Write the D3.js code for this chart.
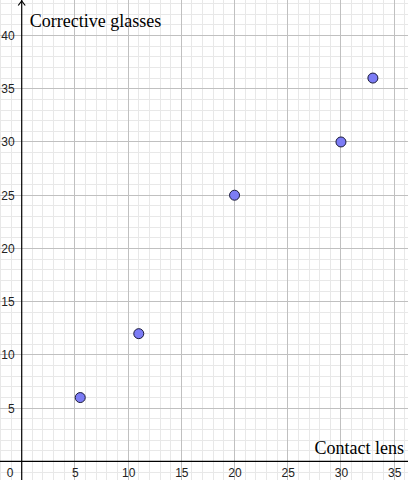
<!DOCTYPE html>
<html>
<head>
<meta charset="utf-8">
<script src="https://cdn.jsdelivr.net/npm/d3@7"></script>
<style>
  body { margin: 0; background: #fff; }
  svg { display: block; }
  .tick text { font: 12px "Liberation Sans", Arial, sans-serif; fill: #222; }
</style>
</head>
<body>
<svg width="408" height="480"></svg>
<script>
var contactLens = [5.5, 11, 20, 30, 33];
var correctiveGlasses = [6, 12, 25, 30, 36];
var xTicks = [5, 10, 15, 20, 25, 30, 35];
var yTicks = [5, 10, 15, 20, 25, 30, 35, 40];
var xTitle = "Contact lens",
  yTitle = "Corrective glasses";

var svg = d3.select("svg"),
  width = +svg.attr("width"),
  height = +svg.attr("height");

var x = d3.scaleLinear().domain([-2.04, 36.3]).range([0, width]),
  y = d3.scaleLinear().domain([-1.74, 43.33]).range([height, 0]);

var points = contactLens.map(function(d, i) { return {x: d, y: correctiveGlasses[i]}; });

// minor grid every 1 unit, major every 5
var minorX = d3.range(-2, 37).filter(function(d) { return d % 5 != 0; }),
  minorY = d3.range(-1, 44).filter(function(d) { return d % 5 != 0; }),
  majorX = d3.range(5, 40, 5),
  majorY = d3.range(5, 45, 5);

var grid = svg.append("g").attr("shape-rendering", "crispEdges");

grid.selectAll(".mx").data(minorX).enter().append("line")
  .attr("x1", function(d) { return x(d); }).attr("x2", function(d) { return x(d); })
  .attr("y1", 0).attr("y2", height)
  .attr("stroke", "#e8e8e8");
grid.selectAll(".my").data(minorY).enter().append("line")
  .attr("y1", function(d) { return y(d); }).attr("y2", function(d) { return y(d); })
  .attr("x1", 0).attr("x2", width)
  .attr("stroke", "#e8e8e8");
grid.selectAll(".Mx").data(majorX).enter().append("line")
  .attr("x1", function(d) { return x(d); }).attr("x2", function(d) { return x(d); })
  .attr("y1", 0).attr("y2", height)
  .attr("stroke", "#c0c0c0");
grid.selectAll(".My").data(majorY).enter().append("line")
  .attr("y1", function(d) { return y(d); }).attr("y2", function(d) { return y(d); })
  .attr("x1", 0).attr("x2", width)
  .attr("stroke", "#c0c0c0");

// main axes
svg.append("line")
  .attr("x1", 0).attr("x2", width)
  .attr("y1", y(0)).attr("y2", y(0))
  .attr("stroke", "#000").attr("stroke-width", 1.2);
svg.append("line")
  .attr("x1", x(0)).attr("x2", x(0))
  .attr("y1", 0).attr("y2", height)
  .attr("stroke", "#000").attr("stroke-width", 1.2);
svg.append("path")
  .attr("d", "M" + (x(0) - 3.5) + ",5.5L" + x(0) + ",1L" + (x(0) + 3.5) + ",5.5")
  .attr("fill", "none").attr("stroke", "#000").attr("stroke-width", 1.2);

// tick labels
var xAxis = svg.append("g")
  .attr("transform", "translate(0," + y(0) + ")")
  .call(d3.axisBottom(x).tickValues(xTicks).tickSize(0).tickPadding(7));
xAxis.select(".domain").remove();

var yAxis = svg.append("g")
  .attr("transform", "translate(" + x(0) + ",0)")
  .call(d3.axisLeft(y).tickValues(yTicks).tickSize(0).tickPadding(7));
yAxis.select(".domain").remove();

svg.append("text")
  .attr("x", 10).attr("y", y(0) + 7).attr("dy", "0.71em")
  .attr("text-anchor", "middle")
  .style("font", "12px 'Liberation Sans', Arial, sans-serif")
  .attr("fill", "#222")
  .text("0");

// axis titles
svg.append("text")
  .attr("x", x(0) + 8).attr("y", 27)
  .style("font", "18px 'Liberation Serif', serif")
  .attr("fill", "#000")
  .text(yTitle);
svg.append("text")
  .attr("x", 404).attr("y", 454)
  .attr("text-anchor", "end")
  .style("font", "18px 'Liberation Serif', serif")
  .attr("fill", "#000")
  .text(xTitle);

// points
svg.selectAll(".pt").data(points).enter().append("circle")
  .attr("cx", function(d) { return x(d.x); })
  .attr("cy", function(d) { return y(d.y); })
  .attr("r", 5)
  .attr("fill", "#7c7cf5")
  .attr("stroke", "#1a1a3a")
  .attr("stroke-width", 1);
</script>
</body>
</html>
